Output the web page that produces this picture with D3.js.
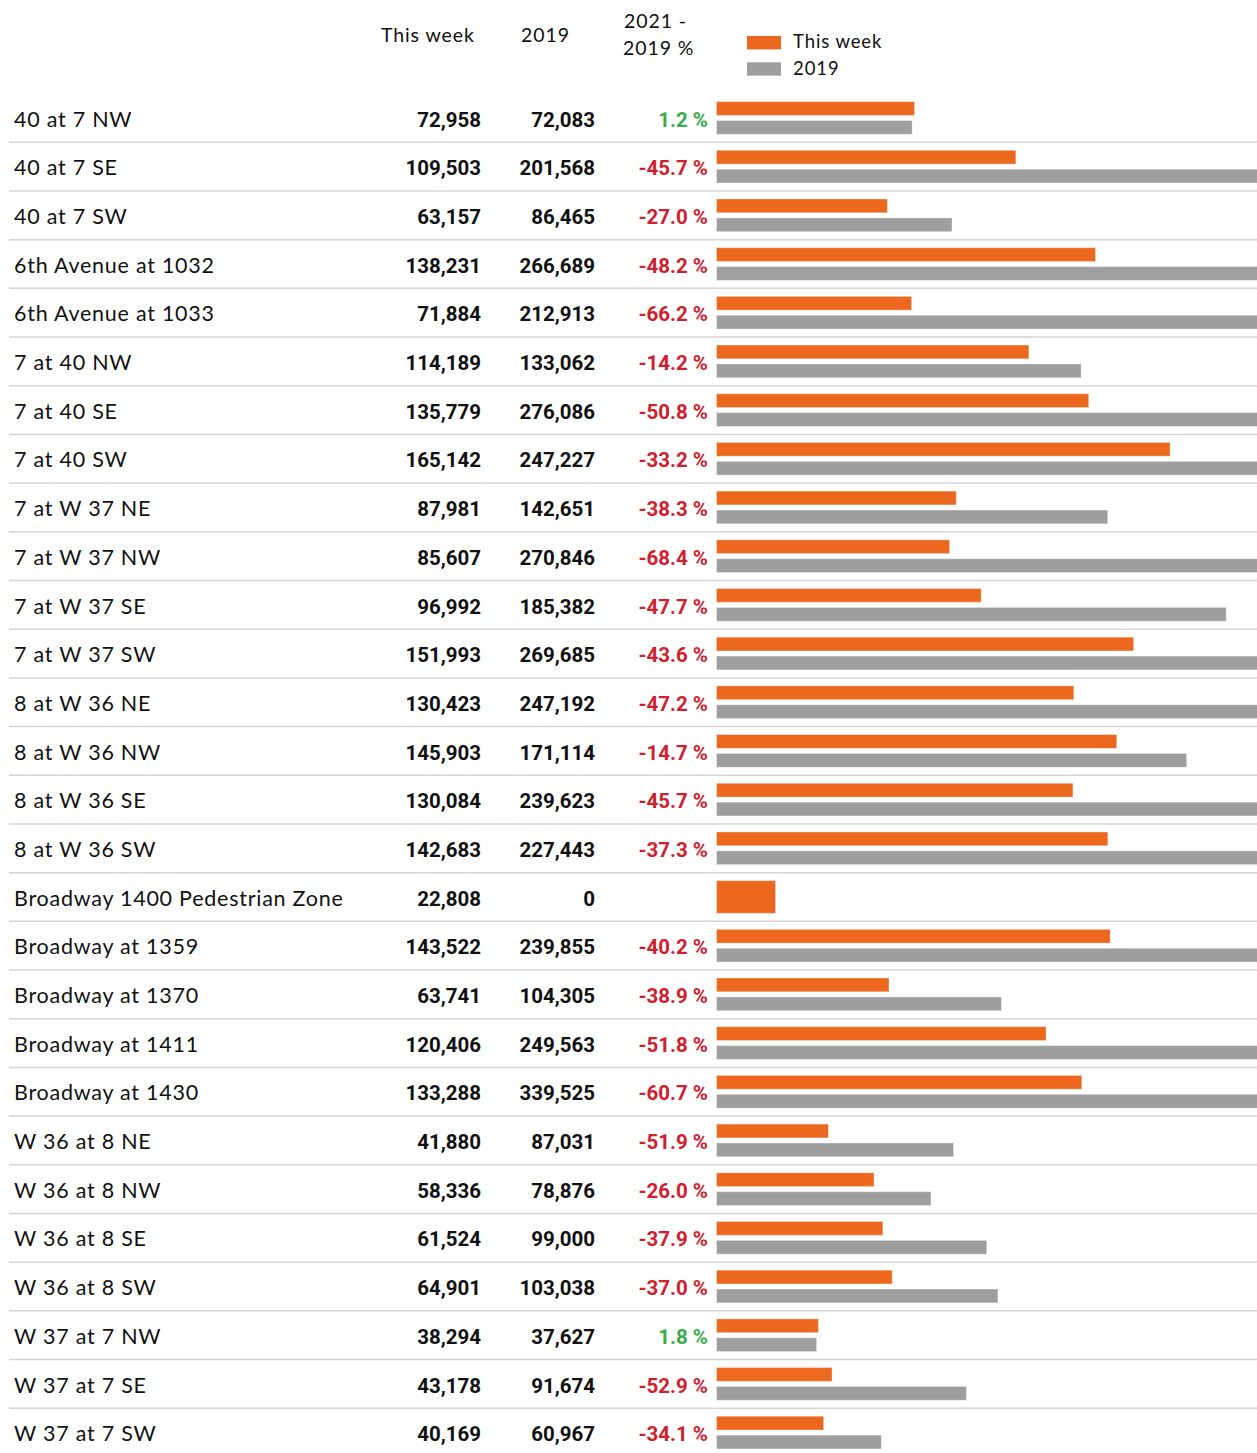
<!DOCTYPE html>
<html>
<head>
<meta charset="utf-8">
<script src="https://cdn.jsdelivr.net/npm/d3@7"></script>
<style>
  body { margin: 0; background: #fff; }
  svg { display: block; font-family: Lato, "Noto Sans", sans-serif; }
  .lbl { font-size: 21.5px; fill: #111; letter-spacing: 0.75px; }
  .num { font-family: Roboto, sans-serif; font-weight: 700; font-size: 20.5px; fill: #111; }
  .pct { font-family: Roboto, sans-serif; font-weight: 700; font-size: 20.5px; }
  .head { font-size: 19.5px; fill: #111; letter-spacing: 0.9px; }
  .sep { stroke: #d4d4d4; stroke-width: 1.5; }
</style>
</head>
<body>
<div id="chart"></div>
<script>
const labels = [
  "40 at 7 NW", "40 at 7 SE", "40 at 7 SW", "6th Avenue at 1032", "6th Avenue at 1033",
  "7 at 40 NW", "7 at 40 SE", "7 at 40 SW", "7 at W 37 NE", "7 at W 37 NW",
  "7 at W 37 SE", "7 at W 37 SW", "8 at W 36 NE", "8 at W 36 NW", "8 at W 36 SE",
  "8 at W 36 SW", "Broadway 1400 Pedestrian Zone", "Broadway at 1359", "Broadway at 1370",
  "Broadway at 1411", "Broadway at 1430", "W 36 at 8 NE", "W 36 at 8 NW", "W 36 at 8 SE",
  "W 36 at 8 SW", "W 37 at 7 NW", "W 37 at 7 SE", "W 37 at 7 SW"
];
const thisWeek = [
  72958, 109503, 63157, 138231, 71884, 114189, 135779, 165142, 87981, 85607,
  96992, 151993, 130423, 145903, 130084, 142683, 22808, 143522, 63741, 120406,
  133288, 41880, 58336, 61524, 64901, 38294, 43178, 40169
];
const y2019 = [
  72083, 201568, 86465, 266689, 212913, 133062, 276086, 247227, 142651, 270846,
  185382, 269685, 247192, 171114, 239623, 227443, 0, 239855, 104305, 249563,
  339525, 87031, 78876, 99000, 103038, 37627, 91674, 60967
];
const pctChange = [
  1.2, -45.7, -27.0, -48.2, -66.2, -14.2, -50.8, -33.2, -38.3, -68.4,
  -47.7, -43.6, -47.2, -14.7, -45.7, -37.3, null, -40.2, -38.9, -51.8,
  -60.7, -51.9, -26.0, -37.9, -37.0, 1.8, -52.9, -34.1
];
const seriesNames = ["This week", "2019"];
const colors = ["#ec681f", "#9e9e9e"];

const width = 1257, height = 1453;
const tableTop = 93.6, rowH = 48.69;

const rows = labels.map((name, i) => ({
  name, week: thisWeek[i], old: y2019[i], pct: pctChange[i]
}));

const svg = d3.select("#chart").append("svg")
  .attr("width", width).attr("height", height);

const y = d3.scaleBand().domain(labels).range([tableTop, tableTop + rowH * labels.length]);
const sub = d3.scaleBand().domain(seriesNames).range([8, 40.7]).paddingInner(0.27);
const x = d3.scaleLinear().domain([0, d3.max(y2019)]).range([712.3, 712.3 + 941.2]);
const barStart = x(0) + 4.2;
const fmt = d3.format(",");
const pctFmt = d3.formatLocale({
  decimal: ".", thousands: ",", grouping: [3], currency: ["", ""], minus: "-"
}).format(".1f");

// headers
const head = svg.append("g").attr("class", "head");
head.append("text").attr("x", 381).attr("y", 41.7).text("This week");
head.append("text").attr("x", 521).attr("y", 41.7).text("2019");
head.append("text").attr("x", 624).attr("y", 28.3).text("2021 -");
head.append("text").attr("x", 623).attr("y", 55).text("2019 %");

// legend
const legend = svg.append("g").selectAll("g").data(seriesNames).join("g")
  .attr("transform", (d, i) => `translate(747, ${36 + i * 26.3})`);
legend.append("rect").attr("width", 34).attr("height", 13.4)
  .attr("fill", (d, i) => colors[i]);
legend.append("text").attr("class", "head").attr("x", 46).attr("y", 12.4)
  .style("font-size", "18.5px").text(d => d);

// separators
svg.append("g").selectAll("line").data(labels.slice(0, -1)).join("line")
  .attr("class", "sep")
  .attr("x1", 9).attr("x2", width)
  .attr("y1", d => y(d) + y.bandwidth()).attr("y2", d => y(d) + y.bandwidth());

const row = svg.append("g").selectAll("g").data(rows).join("g")
  .attr("transform", d => `translate(0, ${y(d.name)})`);

row.append("text").attr("class", "lbl").attr("x", 14).attr("y", 33).text(d => d.name);
row.append("text").attr("class", "num").attr("x", 481).attr("y", 33)
  .attr("text-anchor", "end").text(d => fmt(d.week));
row.append("text").attr("class", "num").attr("x", 595).attr("y", 33)
  .attr("text-anchor", "end").text(d => fmt(d.old));
row.filter(d => d.pct !== null).append("text").attr("class", "pct")
  .attr("x", 708).attr("y", 33).attr("text-anchor", "end")
  .attr("fill", d => d.pct >= 0 ? "#3aab4a" : "#d0202d")
  .text(d => pctFmt(d.pct) + " %");

// bars
row.each(function (d) {
  const g = d3.select(this);
  const vals = d.old > 0 ? [d.week, d.old] : [d.week];
  g.selectAll("rect").data(vals).join("rect")
    .attr("x", barStart)
    .attr("y", (v, i) => vals.length === 1 ? sub.range()[0] : sub(seriesNames[i]))
    .attr("height", (v, i) => vals.length === 1 ? sub.range()[1] - sub.range()[0] : sub.bandwidth())
    .attr("width", v => x(v) - barStart)
    .attr("fill", (v, i) => colors[i])
    .attr("stroke", "#fff").attr("stroke-opacity", 0.35).attr("stroke-width", 1);
});
</script>
</body>
</html>
